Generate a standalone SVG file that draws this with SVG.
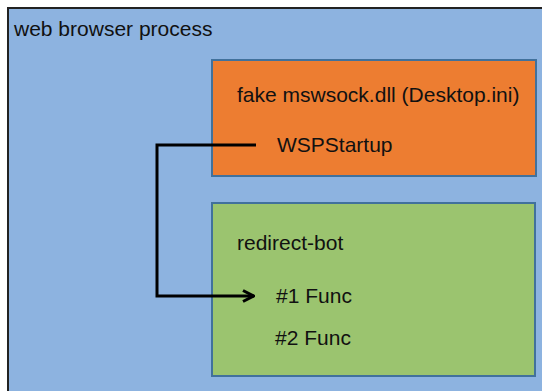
<svg xmlns="http://www.w3.org/2000/svg" width="542" height="391" viewBox="0 0 542 391">
  <defs>
    <style>
      .lbl { font-family: "Liberation Sans", Arial, sans-serif; font-size: 21px; fill: #111; }
      .box { stroke: #41719C; stroke-width: 2; }
      .conn { fill: none; stroke: #000; stroke-width: 3; stroke-linejoin: miter; }
    </style>
    <marker id="arrow" viewBox="0 0 14 14" refX="13" refY="7" markerWidth="14" markerHeight="14" markerUnits="userSpaceOnUse" orient="auto">
      <path d="M2,1.5 L12.5,7 L2,12.5" fill="none" stroke="#000" stroke-width="3"/>
    </marker>
  </defs>
  <rect x="0" y="0" width="542" height="391" fill="#ffffff"/>

  <g id="browser-process">
    <rect x="8" y="8" width="545" height="400" fill="#8DB3E0" stroke="#222" stroke-width="2"/>
    <text class="lbl" x="14" y="36">web browser process</text>
  </g>

  <g id="fake-mswsock">
    <rect class="box" x="212" y="60" width="324" height="116" fill="#ED7D31"/>
    <text class="lbl" x="237" y="102">fake mswsock.dll (Desktop.ini)</text>
    <text class="lbl" x="277" y="152">WSPStartup</text>
  </g>

  <g id="redirect-bot">
    <rect class="box" x="212" y="203" width="323" height="173" fill="#9BC46F"/>
    <text class="lbl" x="237" y="250">redirect-bot</text>
    <text class="lbl" x="276" y="303">#1 Func</text>
    <text class="lbl" x="275" y="345">#2 Func</text>
  </g>

  <g id="connectors">
    <path class="conn" d="M256,145 H157 V296 H254" marker-end="url(#arrow)"/>
  </g>
</svg>
